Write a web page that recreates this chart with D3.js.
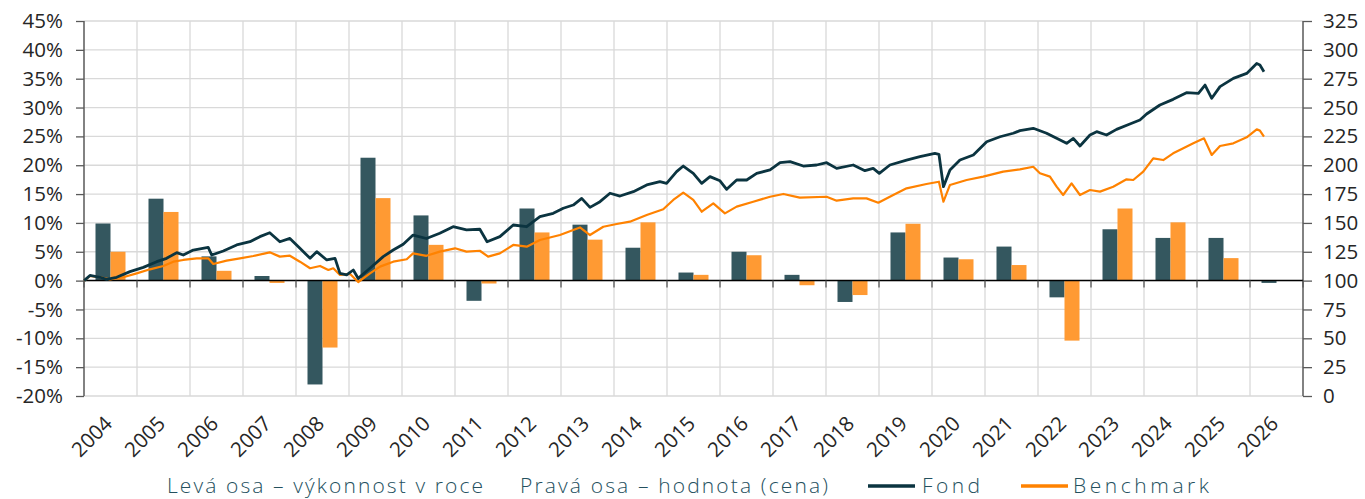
<!DOCTYPE html>
<html>
<head>
<meta charset="utf-8">
<script src="https://cdn.jsdelivr.net/npm/d3@7"></script>
<style>
  html, body { margin: 0; padding: 0; background: #fff; }
  svg { display: block; font-family: "Open Sans", sans-serif; }
</style>
</head>
<body>
<svg id="chart" width="1365" height="499"></svg>
<script>
// ---------- DATA ----------
const years = ["2004","2005","2006","2007","2008","2009","2010","2011","2012","2013","2014","2015",
               "2016","2017","2018","2019","2020","2021","2022","2023","2024","2025","2026"];
const fondYearly  = [9.9, 14.2, 4.2, 0.8, -18.0, 21.3, 11.3, -3.5, 12.5, 9.7, 5.7, 1.4,
                     5.0, 1.0, -3.7, 8.35, 4.0, 5.9, -2.9, 8.9, 7.4, 7.4, -0.4];
const benchYearly = [5.0, 11.9, 1.7, -0.4, -11.6, 14.3, 6.2, -0.5, 8.35, 7.1, 10.1, 1.0,
                     4.4, -0.8, -2.5, 9.85, 3.7, 2.7, -10.4, 12.5, 10.1, 3.9, 0];
const leftTicks  = [-20,-15,-10,-5,0,5,10,15,20,25,30,35,40,45];
const rightTicks = [0,25,50,75,100,125,150,175,200,225,250,275,300,325];
const legendLabels = ["Levá osa – výkonnost v roce", "Pravá osa – hodnota (cena)", "Fond", "Benchmark"];

const fondSeries = [
 ["2004-01-02",100],["2004-02-11",104.5],["2004-04-20",102.9],["2004-06-05",101.1],["2004-08-13",102.9],
 ["2004-11-13",107.8],["2005-02-13",111.5],["2005-05-16",116.4],["2005-07-23",119.3],["2005-10-01",124.2],
 ["2005-11-15",122.2],["2006-01-23",126.5],["2006-05-06",128.8],["2006-05-30",122.2],["2006-08-18",125.7],
 ["2006-11-18",130.9],["2007-02-18",133.7],["2007-04-27",138.1],["2007-07-04",141.5],["2007-09-12",133.7],
 ["2007-11-20",136.6],["2008-01-28",128.0],["2008-04-07",119.3],["2008-05-23",125.1],["2008-07-31",117.9],
 ["2008-09-26",119.3],["2008-10-30",106.3],["2008-12-15",104.9],["2009-01-30",109.2],["2009-03-05",101.9],
 ["2009-05-25",110.7],["2009-08-24",120.8],["2009-11-01",126.5],["2010-01-09",131.5],["2010-03-18",139.5],
 ["2010-06-18",136.5],["2010-09-18",141.0],["2010-12-19",146.7],["2011-03-21",143.9],["2011-06-21",144.5],
 ["2011-08-10",133.7],["2011-11-06",138.1],["2012-02-06",148.2],["2012-05-09",146.7],["2012-08-08",155.4],
 ["2012-11-08",158.3],["2013-01-16",162.7],["2013-03-26",165.5],["2013-05-23",171.3],["2013-07-19",163.5],
 ["2013-09-26",168.4],["2013-12-04",175.7],["2014-02-11",173.3],["2014-05-14",177.1],["2014-08-14",182.9],
 ["2014-11-13",185.7],["2014-12-29",184.3],["2015-03-08",194.4],["2015-04-23",199.3],["2015-07-01",193.0],
 ["2015-08-28",184.3],["2015-10-24",190.1],["2016-01-01",186.5],["2016-02-16",179.1],["2016-04-25",187.2],
 ["2016-07-03",187.2],["2016-09-10",193.0],["2016-12-11",195.9],["2017-02-18",202.2],["2017-04-28",203.1],
 ["2017-07-28",199.3],["2017-10-28",200.2],["2018-01-05",202.2],["2018-03-15",197.3],["2018-07-07",200.2],
 ["2018-09-26",195.3],["2018-11-22",197.3],["2019-01-03",193.0],["2019-03-17",200.2],["2019-07-10",204.5],
 ["2019-10-10",207.4],["2020-01-21",210.3],["2020-02-18",209.5],["2020-03-20",181.4],["2020-05-04",195.9],
 ["2020-07-12",204.5],["2020-10-12",208.9],["2021-01-12",220.4],["2021-04-14",224.7],["2021-07-14",227.7],
 ["2021-08-29",230.0],["2021-11-29",232.0],["2022-03-01",227.7],["2022-05-09",223.3],["2022-07-17",219.0],
 ["2022-09-01",223.3],["2022-10-17",216.7],["2022-12-25",226.2],["2023-02-09",229.1],["2023-04-18",226.2],
 ["2023-06-26",231.1],["2023-09-26",235.7],["2023-12-04",239.2],["2024-01-19",244.4],["2024-04-20",252.2],
 ["2024-07-20",257.1],["2024-10-20",262.9],["2025-01-10",262.3],["2025-02-25",269.5],["2025-04-12",258.0],
 ["2025-06-08",268.1],["2025-09-08",275.3],["2025-12-09",279.6],["2026-02-16",288.2],["2026-03-10",286.9],
 ["2026-04-07",281.1]
];

const benchSeries = [
 ["2004-01-02",100],["2004-02-11",104.0],["2004-04-20",102.9],["2004-06-28",101.1],["2004-09-27",102.9],
 ["2004-12-29",106.3],["2005-03-31",109.8],["2005-07-01",112.7],["2005-09-08",116.4],["2005-11-15",117.9],
 ["2006-02-16",119.3],["2006-05-06",119.3],["2006-06-10",114.4],["2006-09-10",117.3],["2006-12-11",119.3],
 ["2007-03-13",121.3],["2007-07-04",124.5],["2007-09-12",120.8],["2007-11-20",121.6],["2008-01-28",116.4],
 ["2008-04-07",110.7],["2008-06-15",112.7],["2008-08-11",109.2],["2008-09-14",110.7],["2008-10-30",104.9],
 ["2009-01-08",105.8],["2009-03-05",98.8],["2009-05-25",106.3],["2009-08-02",112.1],["2009-11-01",116.4],
 ["2010-02-02",118.5],["2010-03-18",123.6],["2010-06-18",121.5],["2010-09-18",125.1],["2011-01-01",128.0],
 ["2011-03-21",125.1],["2011-06-21",125.9],["2011-08-17",120.8],["2011-11-06",123.6],["2012-02-06",130.9],
 ["2012-05-09",129.4],["2012-08-08",135.2],["2012-12-24",139.5],["2013-05-11",146.1],["2013-07-19",139.5],
 ["2013-10-19",146.7],["2014-01-19",149.1],["2014-04-20",151.1],["2014-08-14",156.9],["2014-12-06",161.8],
 ["2015-02-13",169.9],["2015-04-23",176.2],["2015-07-01",169.9],["2015-08-28",159.7],["2015-11-16",167.0],
 ["2016-02-04",158.3],["2016-04-25",164.1],["2016-08-17",168.4],["2016-12-11",172.7],["2017-03-13",175.1],
 ["2017-07-04",171.9],["2018-01-05",172.7],["2018-03-15",169.3],["2018-07-07",171.3],["2018-10-07",171.3],
 ["2018-12-27",167.5],["2019-04-09",174.2],["2019-07-10",180.0],["2019-11-24",183.7],["2020-02-18",185.7],
 ["2020-03-20",168.4],["2020-05-04",182.9],["2020-08-27",187.2],["2020-12-19",190.1],["2021-05-06",194.4],
 ["2021-08-29",196.4],["2021-11-29",198.7],["2022-01-14",193.0],["2022-03-24",190.1],["2022-05-09",181.4],
 ["2022-06-23",174.2],["2022-08-20",184.3],["2022-10-17",174.2],["2022-12-25",178.5],["2023-03-04",177.1],
 ["2023-06-03",181.4],["2023-09-03",187.8],["2023-10-19",187.2],["2023-12-27",194.4],["2024-03-05",206.0],
 ["2024-05-13",204.5],["2024-07-20",210.3],["2024-09-28",214.7],["2024-12-06",219.0],["2025-02-18",223.3],
 ["2025-04-12",208.9],["2025-06-08",216.7],["2025-09-08",219.0],["2025-12-09",224.2],["2026-02-16",231.1],
 ["2026-03-10",230.0],["2026-04-07",224.7]
];

// ---------- CHART ----------
const svg = d3.select("#chart");
const plot = { left: 84, right: 1303, top: 21, bottom: 396 };
const gridColor = "#d9d9d9";
const axisColor = "#595959";
const textColor = "#262626";
const fondColor = "#0b3440";
const benchColor = "#ff8200";
const fondBar = "#34575f";
const benchBar = "#ff9a33";

const xBand = d3.scaleBand().domain(years).range([plot.left, plot.right]).padding(0);
const xTime = d3.scaleTime()
  .domain([new Date(2004, 0, 1), new Date(2027, 0, 1)])
  .range([plot.left, plot.right]);
const yLeft = d3.scaleLinear().domain([-20, 45]).range([plot.bottom, plot.top]);
const yRight = d3.scaleLinear().domain([0, 325]).range([plot.bottom, plot.top]);
const parse = d3.timeParse("%Y-%m-%d");

// horizontal gridlines
svg.append("g").selectAll("line").data(leftTicks).join("line")
  .attr("x1", plot.left).attr("x2", plot.right)
  .attr("y1", d => yLeft(d)).attr("y2", d => yLeft(d))
  .attr("stroke", gridColor).attr("stroke-width", 1.3);

// vertical gridlines at year boundaries
svg.append("g").selectAll("line").data(years.slice(1)).join("line")
  .attr("x1", d => xBand(d)).attr("x2", d => xBand(d))
  .attr("y1", plot.top).attr("y2", plot.bottom)
  .attr("stroke", gridColor).attr("stroke-width", 1.3);

// left axis
const leftAxis = d3.axisLeft(yLeft).tickValues(leftTicks)
  .tickFormat(d => d + "%").tickSize(8).tickPadding(13);
const gL = svg.append("g").attr("transform", `translate(${plot.left},0)`).call(leftAxis);
gL.select(".domain").attr("stroke", axisColor).attr("stroke-width", 1.5)
  .attr("d", `M0,${plot.top}V${plot.bottom}`);
gL.selectAll(".tick line").attr("stroke", axisColor).attr("stroke-width", 1.3);
gL.selectAll(".tick text").attr("fill", textColor).style("font-size", "20.5px")
  .attr("font-family", "'Open Sans', sans-serif");

// right axis
const rightAxis = d3.axisRight(yRight).tickValues(rightTicks).tickSize(9).tickPadding(11);
const gR = svg.append("g").attr("transform", `translate(${plot.right},0)`).call(rightAxis);
gR.select(".domain").attr("stroke", axisColor).attr("stroke-width", 1.5)
  .attr("d", `M0,${plot.top}V${plot.bottom}`);
gR.selectAll(".tick line").attr("stroke", axisColor).attr("stroke-width", 1.3);
gR.selectAll(".tick text").attr("fill", textColor).style("font-size", "20.5px")
  .attr("font-family", "'Open Sans', sans-serif");

// bars
const barW = xBand.bandwidth() * 0.283;
const barData = years.map((y, i) => ({ year: y, fond: fondYearly[i], bench: benchYearly[i] }));
const gBars = svg.append("g");
gBars.selectAll("rect.f").data(barData).join("rect").attr("class", "f")
  .attr("x", d => xBand(d.year) + xBand.bandwidth() / 2 - barW)
  .attr("width", barW)
  .attr("y", d => yLeft(Math.max(0, d.fond)))
  .attr("height", d => Math.abs(yLeft(d.fond) - yLeft(0)))
  .attr("fill", fondBar);
gBars.selectAll("rect.b").data(barData).join("rect").attr("class", "b")
  .attr("x", d => xBand(d.year) + xBand.bandwidth() / 2)
  .attr("width", barW)
  .attr("y", d => yLeft(Math.max(0, d.bench)))
  .attr("height", d => Math.abs(yLeft(d.bench) - yLeft(0)))
  .attr("fill", benchBar);

// zero axis with ticks at year boundaries
const gX = svg.append("g").attr("transform", `translate(0,${yLeft(0)})`);
gX.append("line").attr("x1", plot.left).attr("x2", plot.right).attr("y1", 0).attr("y2", 0)
  .attr("stroke", "#000").attr("stroke-width", 1.5);
gX.selectAll("line.tk").data(years.concat(["end"])).join("line").attr("class", "tk")
  .attr("x1", (d, i) => i < years.length ? xBand(d) : plot.right)
  .attr("x2", (d, i) => i < years.length ? xBand(d) : plot.right)
  .attr("y1", 0).attr("y2", 7)
  .attr("stroke", axisColor).attr("stroke-width", 1.3);

// x labels (rotated)
svg.append("g").selectAll("text").data(years).join("text")
  .attr("transform", d => `translate(${xBand(d) + xBand.bandwidth() / 2 + 3},${plot.bottom + 29}) rotate(-45)`)
  .attr("text-anchor", "end")
  .attr("fill", textColor)
  .style("font-size", "20.5px")
  .text(d => d);

// lines
const line = d3.line().x(d => xTime(parse(d[0]))).y(d => yRight(d[1]));
svg.append("path").datum(benchSeries).attr("d", line)
  .attr("fill", "none").attr("stroke", benchColor).attr("stroke-width", 2.2).attr("stroke-linejoin", "round");
svg.append("path").datum(fondSeries).attr("d", line)
  .attr("fill", "none").attr("stroke", fondColor).attr("stroke-width", 2.8).attr("stroke-linejoin", "round");

// legend
const legendColor = "#24505e";
const lg = svg.append("g").style("font-size", "21px").style("font-weight", 300).attr("fill", legendColor);
const ly = 493;
lg.append("text").attr("x", 167).attr("y", ly).attr("textLength", 316).text(legendLabels[0]);
lg.append("text").attr("x", 520).attr("y", ly).attr("textLength", 308).text(legendLabels[1]);
lg.append("line").attr("x1", 868).attr("x2", 915).attr("y1", ly - 7).attr("y2", ly - 7)
  .attr("stroke", fondColor).attr("stroke-width", 3.5);
lg.append("text").attr("x", 922).attr("y", ly).attr("textLength", 58).text(legendLabels[2]);
lg.append("line").attr("x1", 1021).attr("x2", 1068).attr("y1", ly - 7).attr("y2", ly - 7)
  .attr("stroke", benchColor).attr("stroke-width", 3.5);
lg.append("text").attr("x", 1073).attr("y", ly).attr("textLength", 136).text(legendLabels[3]);
</script>
</body>
</html>
